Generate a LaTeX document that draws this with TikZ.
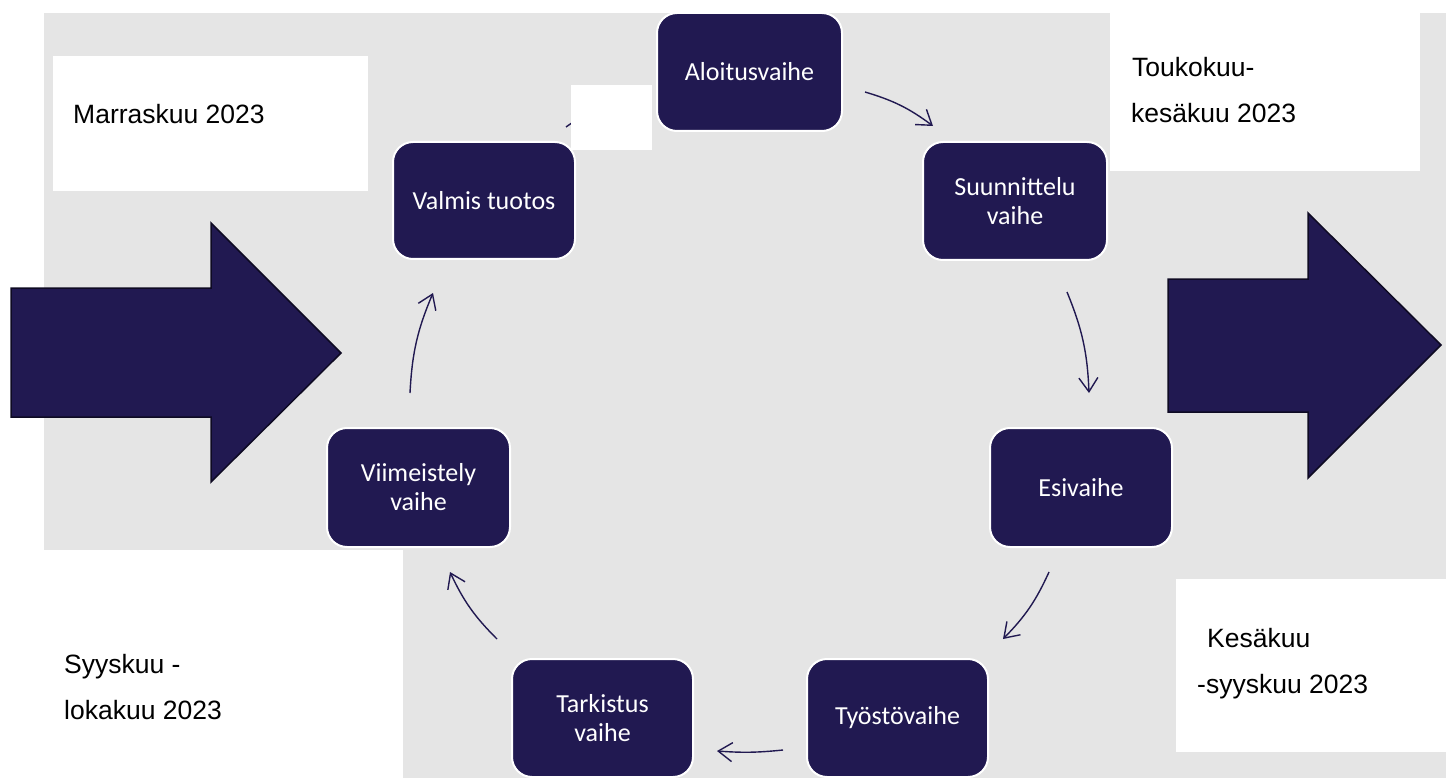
\documentclass[tikz,border=0pt]{standalone}
\usepackage{fontspec}
\setmainfont{Liberation Sans}
\newfontfamily\boxfont{Carlito}
\usetikzlibrary{arrows.meta}
\definecolor{navy}{RGB}{33,25,81}
\definecolor{bggray}{RGB}{229,229,229}
\definecolor{arrowedge}{RGB}{14,10,35}
\tikzset{
  phase/.style={rectangle, rounded corners=20pt, fill=navy, draw=white, line width=2pt,
    text=white, align=center, inner sep=0pt, font=\boxfont\fontsize{26}{29}\selectfont},
  datetext/.style={anchor=base west, inner sep=0pt, font=\fontsize{26.5}{30}\selectfont, text=black},
  flow/.style={draw=navy, line width=1.4pt, -{Straight Barb[length=14pt,width=19pt,line width=1.4pt]}},
  bigarrow/.style={fill=navy, draw=arrowedge, line width=1.5pt},
  whitebox/.style={fill=white, draw=none}
}
\begin{document}
\begin{tikzpicture}[x=1pt,y=1pt]
\useasboundingbox (0,0) rectangle (1446,-778);
% background
\fill[bggray] (44,-13) rectangle (1446,-778);
% white date boxes
\fill[whitebox] (53,-56) rectangle (368,-191);
\fill[whitebox] (1110,0) rectangle (1420,-171);
\fill[whitebox] (1176,-579) rectangle (1446,-752);
\fill[whitebox] (0,-550) rectangle (403,-778);
\node[datetext] (t1) at (73,-124) {Marraskuu 2023};
\node[datetext] (t2a) at (1132,-77) {Toukokuu-};
\node[datetext] (t2b) at (1131,-123) {kesäkuu 2023};
\node[datetext] (t3a) at (1207,-647) {Kesäkuu};
\node[datetext] (t3b) at (1197,-693) {-syyskuu 2023};
\node[datetext] (t4a) at (64,-673) {Syyskuu -};
\node[datetext] (t4b) at (64,-719) {lokakuu 2023};
% big arrows
\draw[bigarrow] (11,-288) -- (211,-288) -- (211,-223) -- (341,-353) -- (211,-482) -- (211,-417) -- (11,-417) -- cycle;
\draw[bigarrow] (1168,-279) -- (1308,-279) -- (1308,-213) -- (1441,-345) -- (1308,-478) -- (1308,-412) -- (1168,-412) -- cycle;
% phase boxes
\node[phase, minimum width=185pt, minimum height=118pt] (alo) at (749.5,-72) {Aloitusvaihe};
\node[phase, minimum width=184pt, minimum height=118pt] (suu) at (1015,-201) {Suunnittelu\\vaihe};
\node[phase, minimum width=182pt, minimum height=119pt] (esi) at (1081,-487.5) {Esivaihe};
\node[phase, minimum width=181pt, minimum height=118pt] (tyo) at (897.5,-718) {Työstövaihe};
\node[phase, minimum width=181pt, minimum height=118pt] (tar) at (602.5,-718) {Tarkistus\\vaihe};
\node[phase, minimum width=183pt, minimum height=119pt] (vii) at (418.5,-487.5) {Viimeistely\\vaihe};
\node[phase, minimum width=182pt, minimum height=117pt] (val) at (484,-200.5) {Valmis tuotos};
% connector end points
\coordinate (a1) at (865,-92);   \coordinate (b1) at (933,-126);
\coordinate (a2) at (1067,-292); \coordinate (b2) at (1089,-393);
\coordinate (a3) at (1049,-572); \coordinate (b3) at (1003,-639);
\coordinate (a4) at (783,-750);  \coordinate (b4) at (717,-751);
\coordinate (a5) at (497,-639);  \coordinate (b5) at (450,-572);
\coordinate (a6) at (410,-393);  \coordinate (b6) at (433,-293);
\coordinate (a7) at (566,-127);  \coordinate (b7) at (640,-92);
\draw[flow] (a1) to[bend left=10] (b1);
\draw[flow] (a2) to[bend left=10] (b2);
\draw[flow] (a3) to[bend left=10] (b3);
\draw[flow] (a4) to[bend left=5] (b4);
\draw[flow] (a5) to[bend left=10] (b5);
\draw[flow] (a6) to[bend left=10] (b6);
\draw[flow] (a7) to[bend left=10] (b7);
% small white square covering last connector
\fill[whitebox] (571,-85) rectangle (652,-150);
\end{tikzpicture}
\end{document}
